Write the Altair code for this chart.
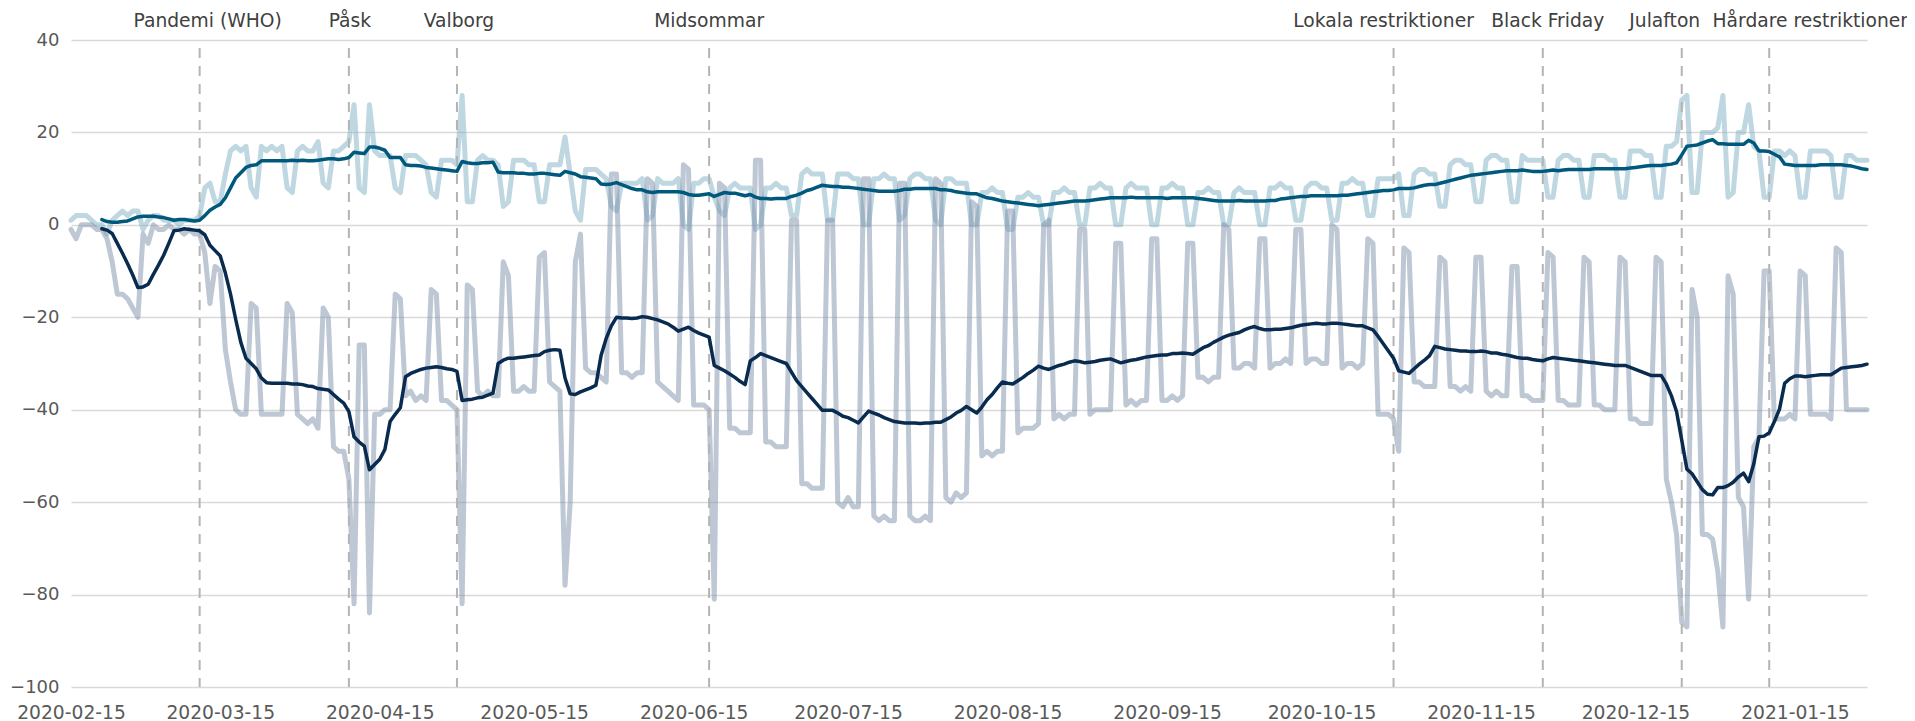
import altair as alt
import pandas as pd

START_DATE = "2020-02-15"
END_DATE = "2021-01-29"

# Upper series (daily % change), one row per week, Saturday..Friday
upper_weeks = [
    [1, 2, 2, 2, 1, 0, 0],
    [-2, 1, 2, 3, 2, 3, 3],
    [-1, 1, 2, 2, 1, 1, 1],
    [0, 1, 1, 1, 2, 8, 9],
    [5, 5, 11, 16, 17, 16, 17],
    [8, 6, 17, 16, 17, 16, 17],
    [8, 7, 16, 17, 16, 16, 18],
    [9, 8, 16, 16, 17, 18, 26],
    [8, 7, 26, 16, 15, 15, 15],
    [8, 7, 15, 15, 15, 14, 13],
    [7, 6, 14, 14, 14, 13, 28],
    [5, 5, 14, 15, 14, 14, 13],
    [4, 5, 14, 14, 14, 13, 13],
    [5, 5, 13, 13, 13, 19, 11],
    [3, 1, 12, 12, 12, 11, 10],
    [4, 3, 9, 9, 9, 9, 10],
    [1, 2, 10, 9, 9, 9, 10],
    [0, -1, 9, 9, 10, 10, 6],
    [3, 2, 8, 9, 8, 8, 8],
    [-1, 0, 8, 8, 9, 8, 8],
    [2, 2, 11, 12, 11, 11, 11],
    [1, 1, 11, 11, 11, 10, 10],
    [0, 0, 10, 10, 11, 10, 10],
    [1, 2, 10, 11, 11, 10, 10],
    [1, 0, 10, 10, 9, 9, 9],
    [0, 0, 7, 7, 8, 7, 7],
    [-1, -1, 6, 6, 7, 6, 6],
    [0, 0, 7, 7, 8, 7, 7],
    [0, 0, 8, 8, 9, 8, 8],
    [0, 0, 8, 9, 8, 8, 8],
    [0, 0, 8, 8, 9, 8, 8],
    [0, 0, 7, 7, 8, 7, 7],
    [0, 0, 7, 8, 7, 7, 7],
    [0, 0, 8, 8, 9, 8, 8],
    [1, 1, 8, 9, 9, 8, 8],
    [1, 1, 9, 9, 10, 9, 9],
    [2, 2, 10, 10, 10, 10, 11],
    [2, 2, 11, 12, 12, 11, 11],
    [4, 4, 13, 14, 14, 13, 13],
    [5, 5, 14, 15, 15, 14, 14],
    [5, 5, 15, 14, 14, 14, 14],
    [6, 6, 14, 15, 15, 14, 14],
    [6, 6, 15, 15, 15, 14, 14],
    [6, 6, 16, 16, 16, 15, 15],
    [6, 6, 17, 17, 18, 27, 28],
    [7, 7, 20, 20, 20, 21, 28],
    [6, 7, 20, 20, 26, 17, 16],
    [6, 6, 16, 16, 15, 16, 15],
    [6, 6, 16, 16, 16, 16, 15],
    [6, 6, 15, 15, 14, 14, 14],
]

# Lower series (daily % change), one row per week, Saturday..Friday
lower_weeks = [
    [-1, -3, 0, 0, 0, -1, -1],
    [-3, -8, -15, -15, -16, -18, -20],
    [-2, -4, 0, -1, -1, 0, -1],
    [-1, -2, -1, -2, -2, -6, -17],
    [-9, -10, -27, -34, -40, -41, -41],
    [-17, -18, -41, -41, -41, -41, -41],
    [-17, -19, -41, -42, -43, -42, -44],
    [-18, -20, -48, -49, -49, -55, -82],
    [-26, -26, -84, -41, -41, -40, -40],
    [-15, -16, -37, -36, -38, -37, -38],
    [-14, -15, -38, -38, -39, -40, -82],
    [-13, -14, -36, -37, -36, -37, -37],
    [-8, -11, -36, -36, -35, -36, -36],
    [-7, -6, -34, -35, -36, -78, -60],
    [-8, -2, -31, -32, -32, -33, -34],
    [11, 11, -32, -32, -33, -32, -32],
    [10, 9, -34, -35, -36, -37, -38],
    [13, 12, -39, -39, -39, -40, -81],
    [9, 8, -44, -44, -45, -45, -45],
    [14, 14, -47, -47, -48, -48, -48],
    [1, 1, -56, -56, -57, -57, -57],
    [1, 1, -60, -61, -59, -61, -61],
    [10, 10, -63, -64, -63, -64, -64],
    [9, 9, -63, -64, -64, -63, -64],
    [10, 9, -59, -60, -58, -59, -58],
    [5, 4, -50, -49, -50, -49, -49],
    [3, 3, -45, -44, -44, -44, -43],
    [0, 1, -42, -41, -42, -41, -41],
    [-1, -1, -41, -40, -40, -40, -40],
    [-4, -4, -39, -38, -39, -38, -38],
    [-3, -3, -38, -38, -37, -38, -37],
    [-4, -4, -33, -33, -34, -33, -33],
    [0, -1, -31, -31, -30, -30, -31],
    [-3, -3, -31, -30, -30, -29, -30],
    [-1, -1, -30, -29, -29, -30, -30],
    [0, -1, -31, -30, -30, -31, -30],
    [-3, -4, -41, -41, -41, -42, -49],
    [-5, -6, -34, -34, -35, -35, -35],
    [-7, -8, -35, -35, -36, -35, -36],
    [-7, -7, -36, -37, -36, -37, -37],
    [-9, -9, -37, -37, -38, -38, -38],
    [-6, -7, -38, -38, -39, -39, -39],
    [-7, -8, -39, -39, -40, -40, -40],
    [-7, -8, -42, -42, -43, -43, -43],
    [-7, -8, -55, -60, -67, -86, -87],
    [-14, -20, -67, -67, -68, -75, -87],
    [-11, -15, -59, -61, -81, -48, -46],
    [-10, -10, -42, -42, -42, -41, -42],
    [-10, -11, -41, -41, -41, -41, -42],
    [-5, -6, -40, -40, -40, -40, -40],
]

event_dates = ["2020-03-11", "2020-04-09", "2020-04-30", "2020-06-18",
               "2020-10-29", "2020-11-27", "2020-12-24", "2021-01-10"]
event_labels = ["Pandemi (WHO)", "Påsk", "Valborg", "Midsommar",
                "Lokala restriktioner", "Black Friday", "Julafton",
                "Hårdare restriktioner"]

tick_dates = ["2020-02-15", "2020-03-15", "2020-04-15", "2020-05-15",
              "2020-06-15", "2020-07-15", "2020-08-15", "2020-09-15",
              "2020-10-15", "2020-11-15", "2020-12-15", "2021-01-15"]
y_ticks = [-100, -80, -60, -40, -20, 0, 20, 40]

# ---------------------------------------------------------------- data
upper = [v for w in upper_weeks for v in w]
lower = [v for w in lower_weeks for v in w]
dates = list(pd.date_range(START_DATE, periods=len(upper), freq="D").strftime("%Y-%m-%d"))

df = pd.DataFrame({
    "date": dates + dates,
    "series": ["upper"] * len(upper) + ["lower"] * len(lower),
    "value": upper + lower,
})
events = pd.DataFrame({"date": event_dates, "label": event_labels})


def dt(s):
    y, m, d = (int(p) for p in s.split("-"))
    return alt.DateTime(year=y, month=m, date=d, utc=True)


FONT = "DejaVu Sans"
FS = 18.7

x_enc = alt.X(
    "date:T",
    scale=alt.Scale(type="utc", domain=[dt(START_DATE), dt(END_DATE)]),
    axis=alt.Axis(
        values=[dt(t) for t in tick_dates],
        format="%Y-%m-%d",
        grid=False,
        labelFlush=False,
        labelOverlap=False,
        labelPadding=16,
        title=None,
    ),
)
y_scale = alt.Scale(domain=[-100, 40], nice=False, zero=False)
y_axis = alt.Axis(values=y_ticks, grid=True, labelPadding=12, labelFontSize=18,
                  title=None)

base = alt.Chart(df)

daily_upper = base.transform_filter("datum.series == 'upper'").mark_line(
    color="#7fb0c4", opacity=0.5, strokeWidth=5, strokeJoin="round", strokeCap="round"
).encode(x=x_enc, y=alt.Y("value:Q", scale=y_scale, axis=y_axis))

daily_lower = base.transform_filter("datum.series == 'lower'").mark_line(
    color="#7d8fa9", opacity=0.5, strokeWidth=5, strokeJoin="round", strokeCap="round"
).encode(x=x_enc, y=alt.Y("value:Q", scale=y_scale, axis=y_axis))


def rolling(series, color):
    return base.transform_filter(f"datum.series == '{series}'").transform_window(
        avg7="mean(value)", n="count()", frame=[-6, 0],
        sort=[alt.SortField("date")],
    ).transform_filter("datum.n == 7").mark_line(
        color=color, strokeWidth=3.5, strokeJoin="round", strokeCap="round"
    ).encode(x=x_enc, y=alt.Y("avg7:Q", scale=y_scale, axis=y_axis))


avg_upper = rolling("upper", "#00597c")
avg_lower = rolling("lower", "#082b4f")

rules = alt.Chart(events).mark_rule(
    color="#b4b4b4", strokeWidth=2, strokeDash=[10, 8], strokeDashOffset=10
).encode(x=x_enc, y=alt.datum(40, scale=y_scale), y2=alt.datum(-100))

# small horizontal nudges of the event labels (style only)
label_dx = {"Pandemi (WHO)": 8, "Påsk": 1, "Valborg": 2, "Midsommar": 0,
            "Lokala restriktioner": -10, "Black Friday": 5, "Julafton": -17,
            "Hårdare restriktioner": 41}

texts = []
for lab in event_labels:
    texts.append(
        alt.Chart(events).transform_filter(alt.FieldEqualPredicate(field="label", equal=lab))
        .mark_text(font=FONT, fontSize=FS, color="#404040", baseline="alphabetic",
                   align="center", dx=label_dx[lab], dy=-13)
        .encode(x=x_enc, y=alt.datum(40, scale=y_scale), text="label:N")
    )

chart = alt.layer(
    daily_upper, daily_lower, rules, avg_upper, avg_lower, *texts
).properties(
    width=1796,
    height=647,
    padding={"left": 63, "top": 32, "right": 40, "bottom": 34},
    autosize=alt.AutoSizeParams(type="none"),
).configure_view(
    stroke=None
).configure_axis(
    domain=False,
    ticks=False,
    tickSize=0,
    labelFont=FONT,
    labelFontSize=FS,
    labelColor="#595959",
    gridColor="#d9d9d9",
    gridWidth=1.5,
)

chart.save("out.html", embed_options={"renderer": "svg", "actions": False})
